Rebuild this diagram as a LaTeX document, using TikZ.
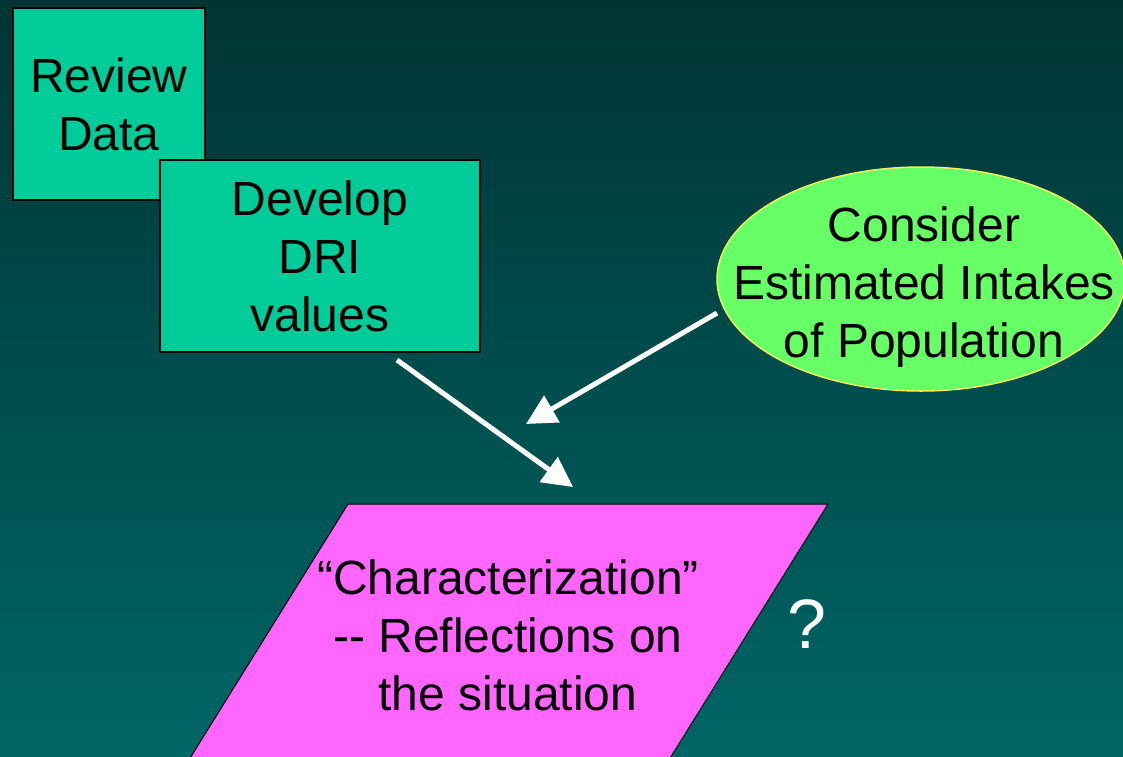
\documentclass[tikz,border=0pt]{standalone}
\usepackage{fontspec}
\setmainfont{Liberation Sans}
\usetikzlibrary{shapes.geometric,arrows.meta}
\definecolor{bgtop}{RGB}{0,52,52}
\definecolor{bgbot}{RGB}{0,102,102}
\definecolor{stepgreen}{RGB}{0,204,153}
\definecolor{popgreen}{RGB}{102,255,102}
\definecolor{popline}{RGB}{240,240,90}
\definecolor{charpink}{RGB}{255,102,255}
\begin{document}
\begin{tikzpicture}
  [x=1pt,y=-1pt,
   stepbox/.style={rectangle,draw=black,fill=stepgreen,line width=2pt,align=center,
                   inner sep=0,outer sep=0,font=\fontsize{48}{58}\selectfont},
   popbox/.style={ellipse,draw=popline,fill=popgreen,line width=1.5pt,
                  inner sep=0,outer sep=0,minimum width=408,minimum height=224},
   charbox/.style={draw=black,fill=charpink,line width=1pt},
   label/.style={align=center,inner sep=0,font=\fontsize{48}{58}\selectfont},
   arr/.style={draw=white,line width=5pt,-{Triangle[length=30pt,width=30pt]}}]
  \clip (0,0) rectangle (1123,756);
  \shade[top color=bgtop,bottom color=bgbot] (0,0) rectangle (1123,756);
  % steps
  \node[stepbox,minimum width=192,minimum height=192] (review) at (109,104) {Review\\Data};
  \node[stepbox,minimum width=320,minimum height=192] (develop) at (320,256) {Develop\\DRI\\values};
  % intakes
  \node[popbox] (consider) at (921,279) {};
  \node[label] (considertext) at (924,287) {Consider\\Estimated Intakes\\of Population};
  % characterization
  \draw[charbox] (348,504) coordinate (chartl) -- (828,504) coordinate (chartr)
    -- (644,800) -- (164,800) -- cycle;
  \node[label] (chartext) at (508,635) {``Characterization''\\-{}- Reflections on\\the situation};
  \node[text=white,inner sep=0,font=\fontsize{70}{80}\selectfont] (query) at (807,624) {?};
  % arrows
  \coordinate (devout) at (397,360);
  \coordinate (devtip) at (573,487);
  \coordinate (conout) at (717,313);
  \coordinate (contip) at (526,424);
  \draw[arr] (devout) -- (devtip);
  \draw[arr] (conout) -- (contip);
\end{tikzpicture}
\end{document}
